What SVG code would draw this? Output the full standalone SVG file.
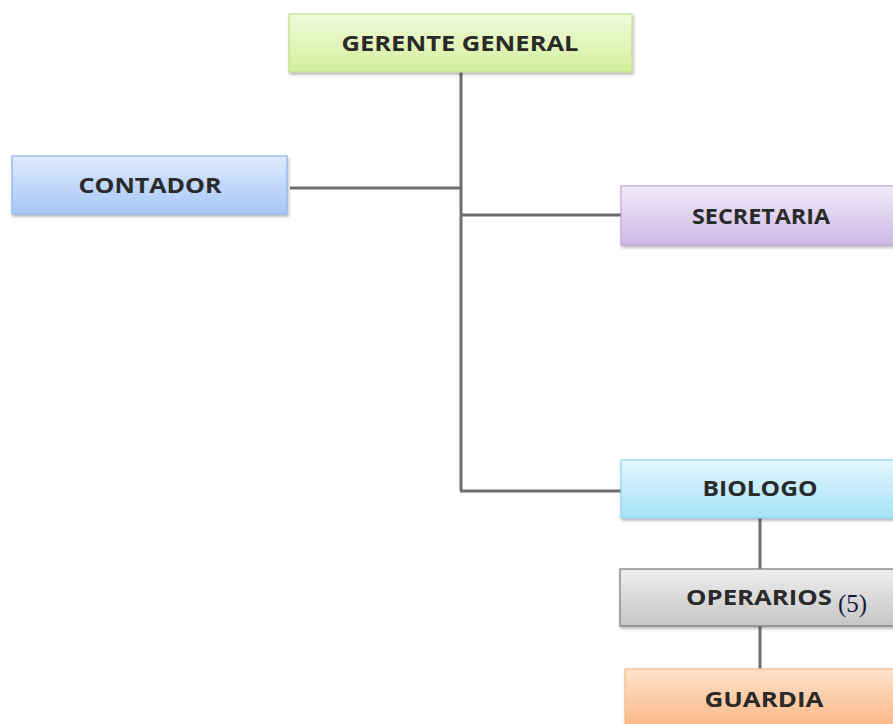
<svg xmlns="http://www.w3.org/2000/svg" width="893" height="724" viewBox="0 0 893 724">
<defs>
<style>
.lbl{font-family:"Open Sans","Liberation Sans",sans-serif;font-weight:bold;font-size:21px;fill:#2a2a2a;text-anchor:middle}
.box{stroke-width:1.2;filter:url(#sh)}
.con{stroke:#6e6e6e;stroke-width:3;fill:none}
</style>
<filter id="sh" x="-10%" y="-20%" width="120%" height="150%">
<feDropShadow dx="1" dy="2" stdDeviation="1.5" flood-color="#000" flood-opacity="0.3"/>
</filter>
<linearGradient id="gG" x1="0" y1="0" x2="0" y2="1"><stop offset="0" stop-color="#f2fbdc"/><stop offset="1" stop-color="#d3ef9c"/></linearGradient>
<linearGradient id="gB" x1="0" y1="0" x2="0" y2="1"><stop offset="0" stop-color="#dfeafd"/><stop offset="1" stop-color="#a6c6f7"/></linearGradient>
<linearGradient id="gP" x1="0" y1="0" x2="0" y2="1"><stop offset="0" stop-color="#f1ecf8"/><stop offset="1" stop-color="#cdb8e6"/></linearGradient>
<linearGradient id="gC" x1="0" y1="0" x2="0" y2="1"><stop offset="0" stop-color="#e3f7fe"/><stop offset="1" stop-color="#a6e2f8"/></linearGradient>
<linearGradient id="gR" x1="0" y1="0" x2="0" y2="1"><stop offset="0" stop-color="#eeeeee"/><stop offset="1" stop-color="#c6c6c6"/></linearGradient>
<linearGradient id="gO" x1="0" y1="0" x2="0" y2="1"><stop offset="0" stop-color="#fde3cc"/><stop offset="1" stop-color="#fbb684"/></linearGradient>
</defs>
<rect width="893" height="724" fill="#ffffff"/>
<g id="connectors">
<line class="con" x1="461" y1="72" x2="461" y2="491"/>
<line class="con" x1="290" y1="188" x2="461" y2="188"/>
<line class="con" x1="461" y1="215" x2="621" y2="215"/>
<line class="con" x1="460" y1="491" x2="621" y2="491"/>
<line class="con" x1="760" y1="518" x2="760" y2="569"/>
<line class="con" x1="760" y1="626" x2="760" y2="669"/>
</g>
<g id="gerente">
<rect class="box" x="289" y="14" width="343" height="58" fill="url(#gG)" stroke="#bde08a"/>
<text class="lbl" x="460" y="51" textLength="237" lengthAdjust="spacingAndGlyphs">GERENTE GENERAL</text>
</g>
<g id="contador">
<rect class="box" x="12" y="156" width="275" height="58" fill="url(#gB)" stroke="#8fb2e4"/>
<text class="lbl" x="150" y="193" textLength="143" lengthAdjust="spacingAndGlyphs">CONTADOR</text>
</g>
<g id="secretaria">
<rect class="box" x="621" y="186" width="280" height="59" fill="url(#gP)" stroke="#bba6da"/>
<text class="lbl" x="761" y="224" textLength="138" lengthAdjust="spacingAndGlyphs">SECRETARIA</text>
</g>
<g id="biologo">
<rect class="box" x="621" y="460" width="280" height="58" fill="url(#gC)" stroke="#8fd3ee"/>
<text class="lbl" x="760" y="496" textLength="115" lengthAdjust="spacingAndGlyphs">BIOLOGO</text>
</g>
<g id="operarios">
<rect class="box" x="620" y="569" width="280" height="57" fill="url(#gR)" stroke="#777777"/>
<text class="lbl" x="759" y="605" textLength="146" lengthAdjust="spacingAndGlyphs">OPERARIOS</text>
<text x="838" y="612" font-family="'Liberation Serif',serif" font-size="25" fill="#1a1a40">(5)</text>
</g>
<g id="guardia">
<rect class="box" x="625" y="669" width="280" height="60" fill="url(#gO)" stroke="#f8b888"/>
<text class="lbl" x="764" y="707" textLength="119" lengthAdjust="spacingAndGlyphs">GUARDIA</text>
</g>
</svg>
